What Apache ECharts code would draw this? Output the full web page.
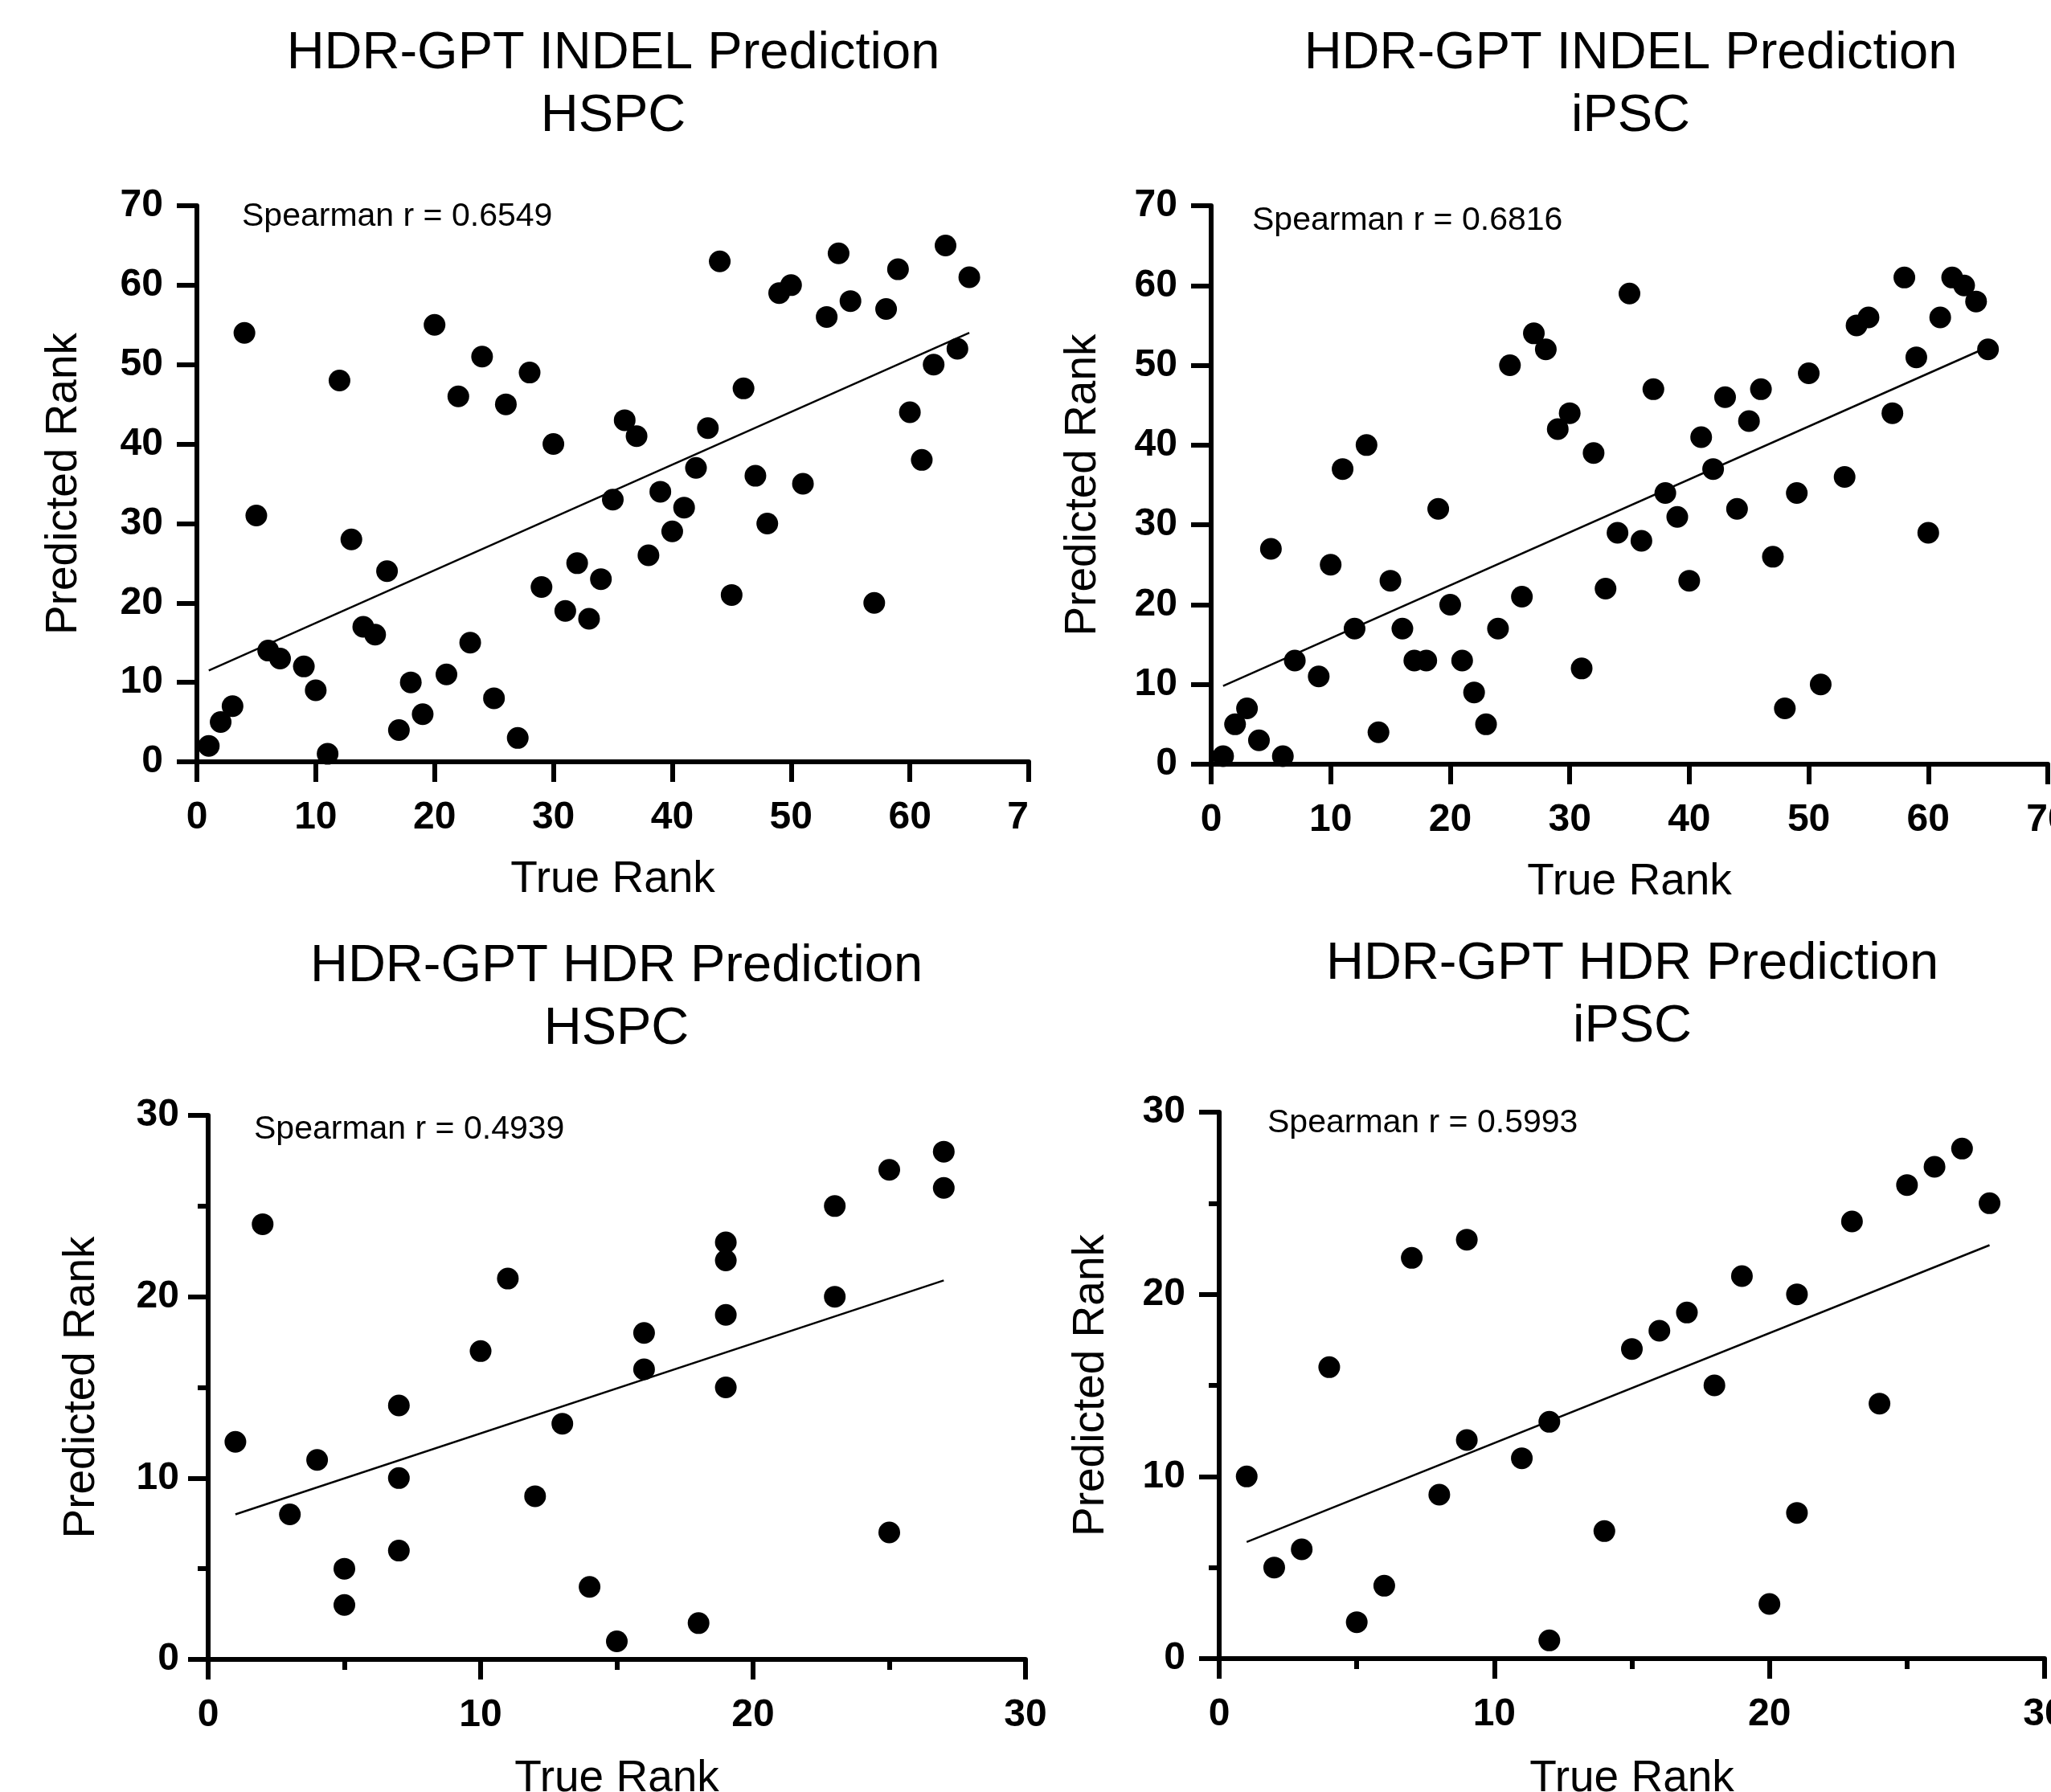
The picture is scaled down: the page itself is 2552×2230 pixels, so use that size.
<!DOCTYPE html>
<html>
<head>
<meta charset="utf-8">
<script src="https://cdn.jsdelivr.net/npm/echarts@6/dist/echarts.min.js"></script>
<style>html,body{margin:0;padding:0;background:#fff}#c{width:2552px;height:2230px}</style>
</head>
<body>
<div id="c"></div>
<script>
// ---- data ----
const indelHspcTrue = [1,2,3,4,5,6,7,9,10,11,12,13,14,15,16,17,18,19,20,21,22,23,24,25,26,27,28,29,30,31,32,33,34,35,36,37,38,39,40,41,42,43,44,45,46,47,48,49,50,51,53,54,55,57,58,59,60,61,62,63,64,65];
const indelHspcPred = [2,5,7,54,31,14,13,12,9,1,48,28,17,16,24,4,10,6,55,11,46,15,51,8,45,3,49,22,40,19,25,18,23,33,43,41,26,34,29,32,37,42,63,21,47,36,30,59,60,35,56,64,58,20,57,62,44,38,50,65,52,61];
const indelIpscTrue = [1,2,3,4,5,6,7,9,10,11,12,13,14,15,16,17,18,19,20,21,22,23,24,25,26,27,28,29,30,31,32,33,34,35,36,37,38,39,40,41,42,43,44,45,46,47,48,49,50,51,53,54,55,57,58,59,60,61,62,63,64,65];
const indelIpscPred = [1,5,7,3,27,1,13,11,25,37,17,40,4,23,17,13,13,32,20,13,9,5,17,50,21,54,52,42,44,12,39,22,29,59,28,47,34,31,23,41,37,46,32,43,47,26,7,34,49,10,36,55,56,44,61,51,29,56,61,60,58,52];
const hdrHspcTrue = [1,2,3,4,5,5,7,7,7,10,11,12,13,14,15,16,16,18,19,19,19,19,23,23,25,25,27,27];
const hdrHspcPred = [12,24,8,11,5,3,14,10,6,17,21,9,13,4,1,18,16,2,23,22,19,15,25,20,27,7,28,26];
const hdrIpscTrue = [1,2,3,4,5,6,7,8,9,9,11,12,12,14,15,16,17,18,19,20,21,21,23,24,25,26,27,28];
const hdrIpscPred = [10,5,6,16,2,4,22,9,23,12,11,13,1,7,17,18,19,15,21,3,20,8,24,14,26,27,28,25];
// fitted lines (endpoints)
const fitIndelHspc = [[1, 11.5], [65, 54.0]];
const fitIndelIpsc = [[1, 9.8], [65, 52.3]];
const fitHdrHspc = [[1, 8.0], [27, 20.9]];
const fitHdrIpsc = [[1, 6.4], [28, 22.7]];
const titles = ['HDR-GPT INDEL Prediction\nHSPC', 'HDR-GPT INDEL Prediction\niPSC', 'HDR-GPT HDR Prediction\nHSPC', 'HDR-GPT HDR Prediction\niPSC'];
const spearman = ['Spearman r = 0.6549', 'Spearman r = 0.6816', 'Spearman r = 0.4939', 'Spearman r = 0.5993'];
const axisMax = [70, 70, 30, 30];
const axisStep = [10, 10, 10, 10];
const xName = 'True Rank';
const yName = 'Predicted Rank';

// ---- layout ----
const FONT = '"Liberation Sans", Arial, Helvetica, sans-serif';
const grids = [
  {left: 245, top: 256, width: 1035, height: 692},
  {left: 1507, top: 256, width: 1041, height: 695},
  {left: 259, top: 1388, width: 1017, height: 677},
  {left: 1517, top: 1384, width: 1027, height: 680}
];
const titlePos = [[763, 28], [2029, 28], [767, 1164], [2031, 1161]];
const spPos = [[301, 245], [1558, 250], [316, 1381], [1577, 1373]];
const yNameGap = [138, 132, 130, 132];
const xNameGap = [119, 119, 121, 122];
const yLabelMargin = [42, 42, 36, 42];

const pairs = (xs, ys) => xs.map((x, i) => [x, ys[i]]);
const scatterData = [pairs(indelHspcTrue, indelHspcPred), pairs(indelIpscTrue, indelIpscPred), pairs(hdrHspcTrue, hdrHspcPred), pairs(hdrIpscTrue, hdrIpscPred)];
const fits = [fitIndelHspc, fitIndelIpsc, fitHdrHspc, fitHdrIpsc];

const lineSt = {color: '#000', width: 6};
const labelBase = {fontSize: 48, fontWeight: 'bold', fontFamily: FONT, color: '#000'};

const xAxes = [], yAxes = [], series = [], titleArr = [];
for (let i = 0; i < 4; i++) {
  const minor = i >= 2;
  const xLabel = Object.assign({margin: 46}, labelBase);
  if (i === 0) {
    xLabel.formatter = v => v === 70 ? '{v|7}{h|0}' : String(v);
    xLabel.rich = {v: Object.assign({}, labelBase), h: Object.assign({}, labelBase, {color: 'rgba(0,0,0,0)'})};
  }
  xAxes.push({
    type: 'value', gridIndex: i, min: 0, max: axisMax[i], interval: axisStep[i],
    axisLine: {show: true, lineStyle: lineSt},
    axisTick: {show: true, length: 25, lineStyle: lineSt},
    minorTick: {show: minor, splitNumber: 2, length: 13, lineStyle: lineSt},
    splitLine: {show: false}, minorSplitLine: {show: false},
    axisLabel: xLabel,
    name: xName, nameLocation: 'middle', nameGap: xNameGap[i],
    nameTextStyle: {fontSize: 55, fontFamily: FONT, color: '#000'}
  });
  yAxes.push({
    type: 'value', gridIndex: i, min: 0, max: axisMax[i], interval: axisStep[i],
    axisLine: {show: true, lineStyle: lineSt},
    axisTick: {show: true, length: 25, lineStyle: lineSt},
    minorTick: {show: minor, splitNumber: 2, length: 13, lineStyle: lineSt},
    splitLine: {show: false}, minorSplitLine: {show: false},
    axisLabel: Object.assign({margin: yLabelMargin[i]}, labelBase),
    name: yName, nameLocation: 'middle', nameGap: yNameGap[i],
    nameTextStyle: {fontSize: 55, fontFamily: FONT, color: '#000'}
  });
  series.push({
    type: 'scatter', xAxisIndex: i, yAxisIndex: i, data: scatterData[i],
    symbol: 'circle', symbolSize: 27, itemStyle: {color: '#000', opacity: 1}, silent: true
  });
  series.push({
    type: 'line', xAxisIndex: i, yAxisIndex: i, data: fits[i],
    symbol: 'none', showSymbol: false, lineStyle: {color: '#000', width: 2.5}, silent: true, z: 1
  });
  titleArr.push({
    text: titles[i], left: titlePos[i][0], top: titlePos[i][1], textAlign: 'center', padding: 0,
    textStyle: {fontSize: 65, fontWeight: 'normal', fontFamily: FONT, color: '#000', lineHeight: 78}
  });
  titleArr.push({
    text: spearman[i], left: spPos[i][0], top: spPos[i][1], padding: 0,
    textStyle: {fontSize: 41, fontWeight: 'normal', fontFamily: FONT, color: '#000', lineHeight: 50}
  });
}

const chart = echarts.init(document.getElementById('c'), null, {renderer: 'canvas'});
chart.setOption({
  animation: false,
  backgroundColor: '#fff',
  title: titleArr,
  grid: grids.map(g => Object.assign({containLabel: false, outerBoundsMode: 'none'}, g)),
  xAxis: xAxes,
  yAxis: yAxes,
  series: series
});
</script>
</body>
</html>
